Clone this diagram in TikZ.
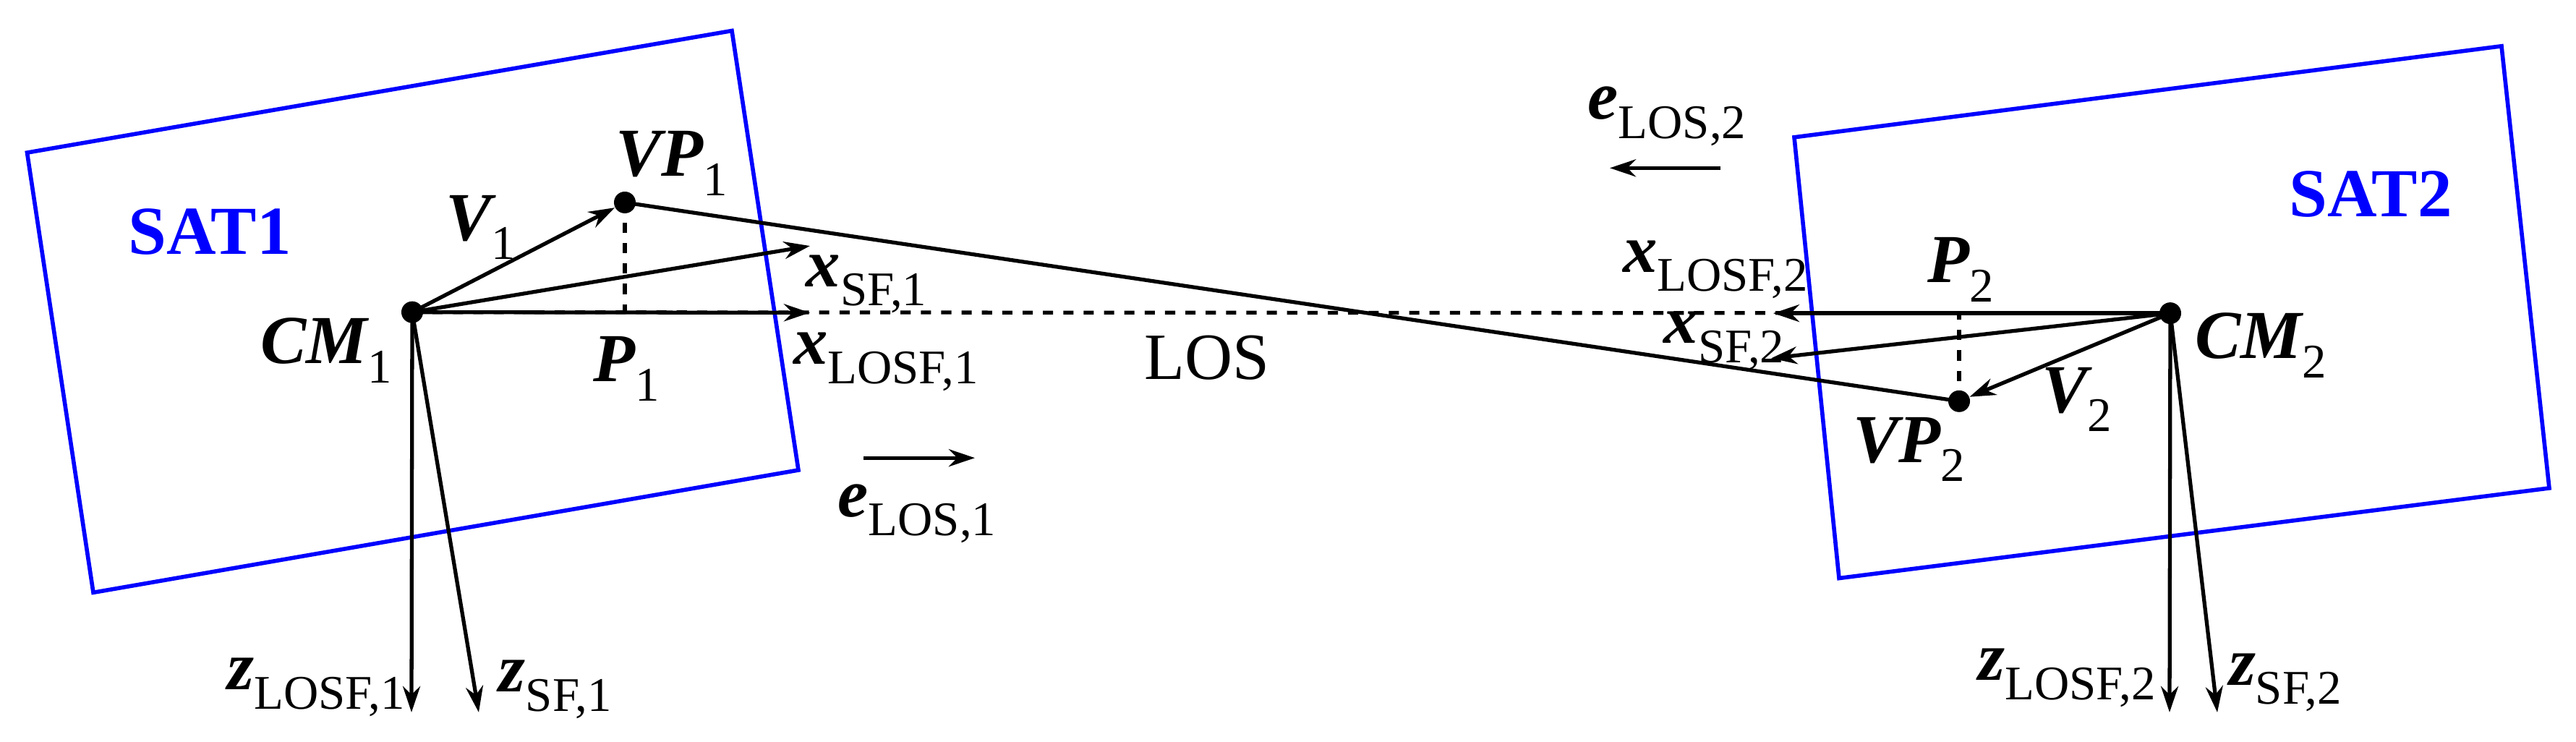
\documentclass[tikz,border=0pt]{standalone}
\usepackage{fontspec}
\setmainfont{Liberation Serif}
\usetikzlibrary{arrows.meta}
\newcommand{\vs}[2]{{\bfseries\itshape #1}\raisebox{-0.28em}{\fontsize{19}{19}\selectfont #2}}
\begin{document}
\begin{tikzpicture}[x=0.01cm,y=-0.00733cm,
  sat/.style={draw=blue,line width=1.6pt},
  vec/.style={line width=1.5pt,-{Stealth[length=0.36cm,width=0.24cm]}},
  thin/.style={line width=1.5pt},
  dots/.style={line width=1.5pt,dash pattern=on 4pt off 4pt},
  lbl/.style={font=\fontsize{27}{27}\selectfont,inner sep=0pt},
  dot/.style={circle,fill=black,inner sep=0pt,minimum size=0.3cm}]
\useasboundingbox (0,0) rectangle (3562,1400);
\draw[sat] (37.5,288) -- (1012,58) -- (1104,887) -- (129,1118) -- cycle;
\draw[sat] (2481,259) -- (3459,87) -- (3525,921) -- (2543,1091) -- cycle;
\node[dot] (cm1) at (570,589) {};
\node[dot] (vp1) at (864,382) {};
\node[dot] (cm2) at (3001,591) {};
\node[dot] (vp2) at (2709,757) {};
\coordinate (p1) at (864,589);
\coordinate (p2) at (2709,591);
\coordinate (xs1) at (1120,464);
\coordinate (xl1) at (1120,590);
\coordinate (zl1) at (569,1344);
\coordinate (zs1) at (662,1344);
\coordinate (xl2) at (2452,591);
\coordinate (xs2) at (2449,676);
\coordinate (zl2) at (3000,1344);
\coordinate (zs2) at (3066,1344);
\coordinate (e1a) at (1194,864); \coordinate (e1b) at (1348,864);
\coordinate (e2a) at (2379,317); \coordinate (e2b) at (2226,317);
\draw[dots] (cm1.center) -- (cm2.center);
\draw[dots] (vp1.center) -- (p1);
\draw[dots] (vp2.center) -- (p2);
\draw[thin] (vp1.center) -- (vp2.center);
\draw[vec] (cm1.center) -- (vp1);
\draw[vec] (cm1.center) -- (xs1);
\draw[vec] (cm1.center) -- (xl1);
\draw[vec] (cm1.center) -- (zl1);
\draw[vec] (cm1.center) -- (zs1);
\draw[vec] (cm2.center) -- (vp2);
\draw[vec] (cm2.center) -- (xl2);
\draw[vec] (cm2.center) -- (xs2);
\draw[vec] (cm2.center) -- (zl2);
\draw[vec] (cm2.center) -- (zs2);
\draw[vec] (e1a) -- (e1b);
\draw[vec] (e2a) -- (e2b);
\node[lbl,text=blue,font=\fontsize{27}{27}\selectfont\bfseries] (s1) at (290,437) {SAT1};
\node[lbl,text=blue,font=\fontsize{27}{27}\selectfont\bfseries] (s2) at (3278,366) {SAT2};
\node[lbl] (lv1) at (665,429) {\vs{V}{1}};
\node[lbl] (lvp1) at (929,308) {\vs{VP}{1}};
\node[lbl] (lxs1) at (1198,536) {\vs{x}{SF,1}};
\node[lbl] (lcm1) at (451,661) {\vs{CM}{1}};
\node[lbl] (lp1) at (866,696) {\vs{P}{1}};
\node[lbl] (lxl1) at (1225,683) {\vs{x}{LOSF,1}};
\node[lbl] (le1) at (1268,969) {\vs{e}{LOS,1}};
\node[lbl] (lzl1) at (437,1297) {\vs{z}{LOSF,1}};
\node[lbl] (lzs1) at (768,1301) {\vs{z}{SF,1}};
\node[lbl,font=\fontsize{26}{26}\selectfont] (los) at (1669,675) {LOS};
\node[lbl] (le2) at (2305,219) {\vs{e}{LOS,2}};
\node[lbl] (lp2) at (2711,509) {\vs{P}{2}};
\node[lbl] (lxl2) at (2372,509) {\vs{x}{LOSF,2}};
\node[lbl] (lxs2) at (2384,643) {\vs{x}{SF,2}};
\node[lbl] (lcm2) at (3126,652) {\vs{CM}{2}};
\node[lbl] (lv2) at (2872,754) {\vs{V}{2}};
\node[lbl] (lvp2) at (2640,848) {\vs{VP}{2}};
\node[lbl] (lzl2) at (2858,1279) {\vs{z}{LOSF,2}};
\node[lbl] (lzs2) at (3160,1288) {\vs{z}{SF,2}};
\end{tikzpicture}
\end{document}
